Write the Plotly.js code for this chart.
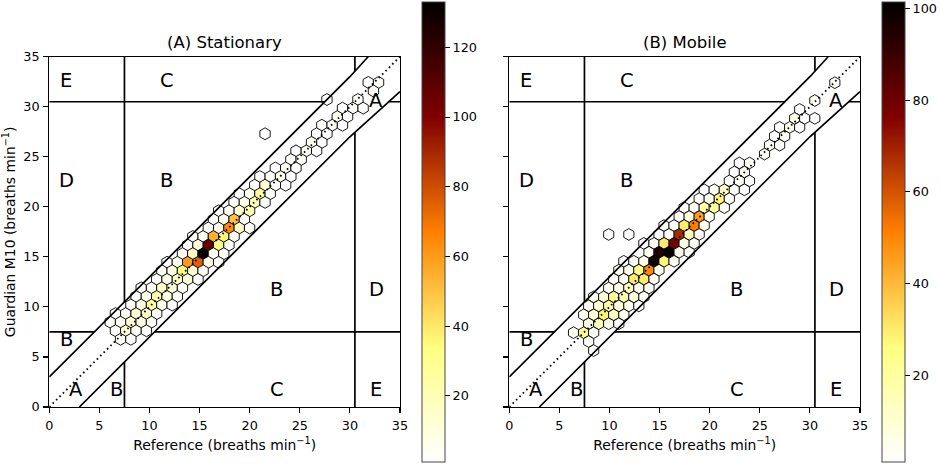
<!DOCTYPE html>
<html><head><meta charset="utf-8">
<script src="https://cdn.plot.ly/plotly-3.0.1.min.js"></script>
<style>html,body{margin:0;padding:0;background:#fff;}#chart{width:941px;height:464px;}</style>
</head><body><div id="chart"></div>
<script>
// ---------- data: hexbin cell centres (breaths/min) and counts ----------
const stationaryX = [
 31.83,32.86, 32.35, 27.71,30.80, 29.26,30.29,31.32, 28.74,29.77, 27.20,28.23,29.26,
 21.53,26.68,27.71, 26.17,27.20, 24.62,25.65,26.68, 24.11,25.14, 22.56,23.59,24.62,
 21.02,22.05,23.08,24.11, 20.50,21.53,22.56,23.59, 18.96,19.99,21.02,22.05,
 18.44,19.47,20.50,21.53, 16.90,17.93,18.96,19.99, 16.38,17.41,18.44,19.47,
 15.87,16.90,17.93,18.96,19.99, 14.32,15.35,16.38,17.41,18.44, 13.81,14.84,15.87,16.90,17.93,
 13.29,14.32,15.35,16.38,17.41, 11.75,12.78,13.81,14.84,15.87,16.90, 11.23,12.26,13.29,14.32,15.35,
 10.72,11.75,12.78,13.81,14.84, 9.17,10.20,11.23,12.26,13.29, 8.66,9.69,10.72,11.75,12.78,
 8.14,9.17,10.20,11.23,12.26, 6.60,7.63,8.66,9.69,10.72, 6.08,7.11,8.14,9.17,10.20,
 6.60,7.63,8.66,9.69, 7.11,8.14];
const stationaryY = [
 32.43,32.43, 31.57, 30.72,30.72, 29.86,29.86,29.86, 29.01,29.01, 28.15,28.15,28.15,
 27.30,27.30,27.30, 26.44,26.44, 25.59,25.59,25.59, 24.73,24.73, 23.88,23.88,23.88,
 23.02,23.02,23.02,23.02, 22.16,22.16,22.16,22.16, 21.31,21.31,21.31,21.31,
 20.45,20.45,20.45,20.45, 19.60,19.60,19.60,19.60, 18.74,18.74,18.74,18.74,
 17.89,17.89,17.89,17.89,17.89, 17.03,17.03,17.03,17.03,17.03, 16.18,16.18,16.18,16.18,16.18,
 15.32,15.32,15.32,15.32,15.32, 14.46,14.46,14.46,14.46,14.46,14.46, 13.61,13.61,13.61,13.61,13.61,
 12.75,12.75,12.75,12.75,12.75, 11.90,11.90,11.90,11.90,11.90, 11.04,11.04,11.04,11.04,11.04,
 10.19,10.19,10.19,10.19,10.19, 9.33,9.33,9.33,9.33,9.33, 8.48,8.48,8.48,8.48,8.48,
 7.62,7.62,7.62,7.62, 6.77,6.77];
const stationaryCount = [
 1,2, 1, 1,2, 1,2,1, 4,1, 1,3,1,
 1,2,1, 3,1, 1,4,1, 2,3, 1,3,2,
 1,2,5,1, 1,10,2,1, 1,3,28,2,
 2,6,20,1, 1,3,12,20, 2,4,50,2,
 2,6,65,15,2, 2,4,55,35,2, 1,8,105,30,2,
 3,15,133,4,3, 1,4,60,75,6,2, 2,8,35,12,3,
 2,6,15,10,2, 1,4,15,10,2, 2,5,20,8,2,
 3,8,25,6,2, 1,3,10,15,3, 2,4,12,8,2,
 2,10,4,2, 2,1];

const mobileX = [
 32.49, 30.49, 28.98, 28.48,29.48,30.49, 26.98,27.98,28.98, 26.47,27.48, 25.97,26.98, 25.47,
 22.96,23.97, 22.46,23.46, 21.96,22.96,23.97, 19.45,20.45,21.46,22.46,23.46,
 18.95,19.95,20.96,21.96, 17.45,18.45,19.45,20.45,21.46, 16.95,17.95,18.95,19.95,
 15.44,16.44,17.45,18.45,19.45, 9.92,11.93,14.94,15.94,16.95,17.95,18.95,
 13.43,14.44,15.44,16.44,17.45,18.45, 13.94,14.94,15.94,16.95,17.95,
 11.43,12.43,13.43,14.44,15.44,16.44, 10.93,11.93,12.93,13.94,14.94,
 10.42,11.43,12.43,13.43,14.44, 9.92,10.93,11.93,12.93,13.94,
 8.42,9.42,10.42,11.43,12.43,13.43, 7.92,8.92,9.92,10.93,11.93,12.93,
 7.42,8.42,9.42,10.42,11.43, 7.92,8.92,9.92,10.93, 6.41,7.42,8.42, 7.92, 8.42];
const mobileY = [
 32.40, 30.62, 29.73, 28.84,28.84,28.84, 27.94,27.94,27.94, 27.05,27.05, 26.16,26.16, 25.27,
 24.38,24.38, 23.48,23.48, 22.59,22.59,22.59, 21.70,21.70,21.70,21.70,21.70,
 20.81,20.81,20.81,20.81, 19.92,19.92,19.92,19.92,19.92, 19.02,19.02,19.02,19.02,
 18.13,18.13,18.13,18.13,18.13, 17.24,17.24,17.24,17.24,17.24,17.24,17.24,
 16.35,16.35,16.35,16.35,16.35,16.35, 15.46,15.46,15.46,15.46,15.46,
 14.56,14.56,14.56,14.56,14.56,14.56, 13.67,13.67,13.67,13.67,13.67,
 12.78,12.78,12.78,12.78,12.78, 11.89,11.89,11.89,11.89,11.89,
 11.00,11.00,11.00,11.00,11.00,11.00, 10.10,10.10,10.10,10.10,10.10,10.10,
 9.21,9.21,9.21,9.21,9.21, 8.32,8.32,8.32,8.32, 7.43,7.43,7.43, 6.54, 5.64];
const mobileCount = [
 2, 2, 1, 5,1,1, 1,4,1, 1,3, 2,1, 2,
 1,3, 1,3, 1,2,1, 1,2,12,2,1,
 1,3,28,2, 1,2,18,20,2, 1,8,46,3,
 1,2,30,52,3, 1,1,2,3,68,15,2,
 1,3,30,78,5,2, 3,96,101,4,2,
 1,2,4,98,28,3, 2,4,25,50,3,
 2,3,30,30,3, 3,5,12,4,2,
 2,8,22,15,6,2, 3,10,18,8,4,1,
 3,8,28,12,4, 5,14,4,1, 2,22,3, 2, 1];

// ---------- zone grid definition ----------
const axisMax = 35;
const zoneCuts = [7.5, 30.5];
const bandUpperX = [0, 30, 31.82], bandUpperY = [3, 33, 35];
const bandLowerX = [3, 30, 35],    bandLowerY = [0, 27, 31.5];
const tickValues = [0, 5, 10, 15, 20, 25, 30, 35];
const cbTicksA = [20, 40, 60, 80, 100, 120];
const cbTicksB = [20, 40, 60, 80, 100];
const cbRangeA = [1, 133], cbRangeB = [1, 101.5];
const zoneLabels = ['E','C','D','B','B','D','B','A','B','C','E','A'];
const zoneLabelX = [1.7, 11.7, 1.75, 11.7, 22.7, 32.7, 1.7, 2.7, 6.7, 22.7, 32.6, 32.6];
const zoneLabelY = [32.65, 32.65, 22.65, 22.65, 11.7, 11.7, 6.7, 1.7, 1.7, 1.7, 1.7, 30.65];
const panelTitles = ['(A) Stationary', '(B) Mobile'];

// ---------- helpers ----------
function interp(xs, ys, v) {
  for (let i = 0; i < xs.length - 1; i++) {
    if (v <= xs[i + 1]) return ys[i] + (ys[i + 1] - ys[i]) * (v - xs[i]) / (xs[i + 1] - xs[i]);
  }
  return ys[ys.length - 1];
}
function zoneSegments() {
  const X = [], Y = [];
  zoneCuts.forEach(c => {
    const lo = interp(bandLowerX, bandLowerY, c), up = interp(bandUpperX, bandUpperY, c);
    X.push(c, c, null, c, c, null); Y.push(0, lo, null, up, axisMax, null);
    const xu = interp(bandUpperY, bandUpperX, c), xl = interp(bandLowerY, bandLowerX, c);
    X.push(0, xu, null, xl, axisMax, null); Y.push(c, c, null, c, c, null);
  });
  return {X, Y};
}
const afmhotR = [[0,'rgb(255,255,255)'],[0.25,'rgb(255,255,128)'],[0.5,'rgb(255,128,0)'],[0.75,'rgb(128,0,0)'],[1,'rgb(0,0,0)']];
const W = 941, H = 464;
const FONT = 'DejaVu Sans, Verdana, sans-serif';

function panel(xs, ys, ns, range, cbTicks, cbX, xa, ya, msize) {
  const seg = zoneSegments();
  const lineStyle = {color: 'black', width: 1.7};
  return [
    {type: 'scatter', mode: 'markers', x: xs, y: ys, xaxis: xa, yaxis: ya, cliponaxis: true,
     marker: {symbol: 'hexagon', size: msize, color: ns, colorscale: afmhotR, cmin: range[0], cmax: range[1],
       line: {color: 'black', width: 0.9}, showscale: true,
       colorbar: {x: cbX / W, xanchor: 'left', xpad: 0, y: 0.5, yanchor: 'middle', ypad: 0,
         len: 460, lenmode: 'pixels', thickness: 23, thicknessmode: 'pixels',
         outlinewidth: 1, outlinecolor: '#444', tickmode: 'array', tickvals: cbTicks,
         ticktext: cbTicks.map(String), ticks: 'outside', ticklen: 5,
         tickwidth: 1, tickcolor: 'black', tickfont: {family: FONT, size: 12.8, color: 'black'}}}},
    {type: 'scatter', mode: 'lines', x: seg.X, y: seg.Y, xaxis: xa, yaxis: ya, line: lineStyle, connectgaps: false},
    {type: 'scatter', mode: 'lines', x: bandUpperX, y: bandUpperY, xaxis: xa, yaxis: ya, line: lineStyle},
    {type: 'scatter', mode: 'lines', x: bandLowerX, y: bandLowerY, xaxis: xa, yaxis: ya, line: lineStyle},
    {type: 'scatter', mode: 'lines', x: [0, axisMax], y: [0, axisMax], xaxis: xa, yaxis: ya,
     line: {color: 'black', width: 1.8, dash: '1.6px,3.2px'}}
  ];
}

const data = [
  ...panel(stationaryX, stationaryY, stationaryCount, cbRangeA, cbTicksA, 421.7, 'x', 'y', 11.9),
  ...panel(mobileX, mobileY, mobileCount, cbRangeB, cbTicksB, 881.7, 'x2', 'y2', 11.7)
];

const axisCommon = {range: [0, axisMax], tickvals: tickValues, ticks: 'outside', ticklen: 4.9, tickwidth: 1.1,
  tickcolor: 'black', showline: true, mirror: true, linecolor: 'black', linewidth: 1.2, showgrid: false,
  zeroline: false, fixedrange: true, tickfont: {family: FONT, size: 12.8, color: 'black'}};
const xTitle = {text: 'Reference (breaths min<sup>−1</sup>)', font: {family: FONT, size: 13.9, color: 'black'}, standoff: 7};
const yDomain = [57 / H, 407.3 / H];

const annotations = [];
zoneLabels.forEach((t, i) => {
  ['x', 'x2'].forEach((xr, p) => annotations.push({text: t, x: zoneLabelX[i], y: zoneLabelY[i],
    xref: xr, yref: p ? 'y2' : 'y', showarrow: false, xanchor: 'center', yanchor: 'middle',
    font: {family: FONT, size: 19.5, color: 'black'}}));
});
panelTitles.forEach((t, p) => annotations.push({text: t, x: (p ? 684.7 : 224.7) / W, y: 1 - 43 / H,
  xref: 'paper', yref: 'paper', showarrow: false, xanchor: 'center', yanchor: 'middle',
  font: {family: FONT, size: 16.5, color: 'black'}}));

const layout = {
  width: W, height: H, margin: {l: 0, r: 0, t: 0, b: 0}, paper_bgcolor: 'white', plot_bgcolor: 'white',
  showlegend: false, hovermode: false, font: {family: FONT, color: 'black'},
  xaxis: Object.assign({}, axisCommon, {domain: [49.3 / W, 400 / W], anchor: 'y', title: xTitle, ticklabelstandoff: 2}),
  yaxis: Object.assign({}, axisCommon, {domain: yDomain, anchor: 'x', ticklabelstandoff: 1,
    title: {text: 'Guardian M10 (breaths min<sup>−1</sup>)', font: {family: FONT, size: 13.9, color: 'black'}, standoff: 5}}),
  xaxis2: Object.assign({}, axisCommon, {domain: [509.3 / W, 860 / W], anchor: 'y2', title: xTitle, ticklabelstandoff: 2}),
  yaxis2: Object.assign({}, axisCommon, {domain: yDomain, anchor: 'x2', showticklabels: false}),
  annotations: annotations
};

Plotly.newPlot('chart', data, layout, {staticPlot: true, displayModeBar: false});
</script></body></html>
